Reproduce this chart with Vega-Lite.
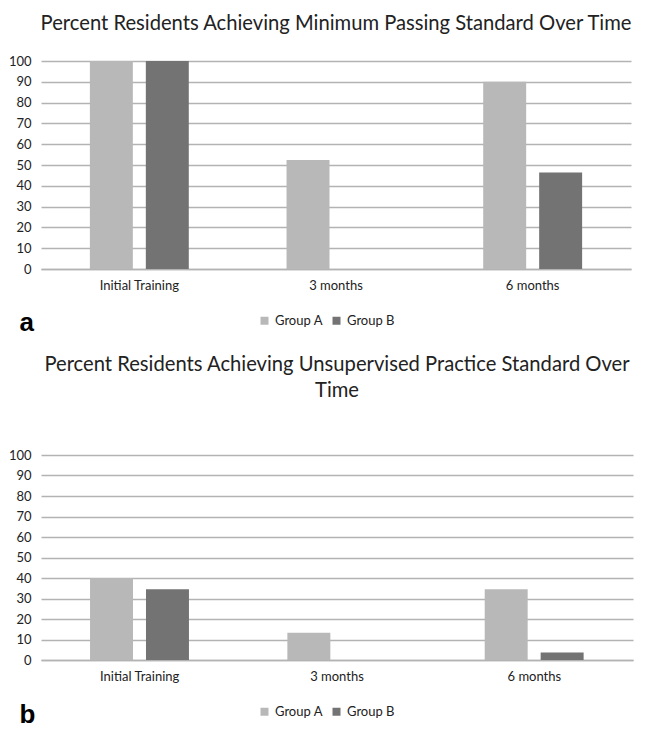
{
  "$schema": "https://vega.github.io/schema/vega-lite/v6.json",
  "padding": {"left": 8, "top": 13, "right": 10, "bottom": 0},
  "background": "white",
  "resolve": {"legend": {"color": "independent"}},
  "config": {
    "font": "Lato",
    "view": {"stroke": null},
    "concat": {"spacing": 19},
    "axis": {
      "labelFont": "Lato",
      "labelFontSize": 13,
      "labelColor": "#222222",
      "ticks": false,
      "gridColor": "#b3b3b3",
      "gridWidth": 1.5,
      "domainColor": "#b3b3b3",
      "domainWidth": 1.5
    },
    "legend": {"labelFont": "Lato", "labelFontSize": 13, "labelColor": "#222222", "symbolType": "square", "symbolSize": 64, "symbolStrokeWidth": 0}
  },
  "datasets": {
    "panelA": [
      {"period": "Initial Training", "group": "Group A", "pct": 100},
      {"period": "Initial Training", "group": "Group B", "pct": 100},
      {"period": "3 months", "group": "Group A", "pct": 52.4},
      {"period": "3 months", "group": "Group B", "pct": 0},
      {"period": "6 months", "group": "Group A", "pct": 90},
      {"period": "6 months", "group": "Group B", "pct": 46.4}
    ],
    "panelB": [
      {"period": "Initial Training", "group": "Group A", "pct": 40},
      {"period": "Initial Training", "group": "Group B", "pct": 34.5},
      {"period": "3 months", "group": "Group A", "pct": 13.3},
      {"period": "3 months", "group": "Group B", "pct": 0},
      {"period": "6 months", "group": "Group A", "pct": 34.5},
      {"period": "6 months", "group": "Group B", "pct": 3.6}
    ]
  },
  "vconcat": [
    {
      "title": {"text": "Percent Residents Achieving Minimum Passing Standard Over Time", "fontSize": 20.2, "fontWeight": "normal", "color": "#222222", "offset": 21, "anchor": "middle"},
      "width": 590,
      "height": 208,
      "data": {"name": "panelA"},
      "mark": {"type": "bar"},
      "encoding": {
        "x": {"field": "period", "type": "nominal", "sort": ["Initial Training", "3 months", "6 months"],
          "scale": {"paddingInner": 0.497, "paddingOuter": 0.2485},
          "axis": {"title": "a", "labelAngle": 0, "labelPadding": 10, "titleFont": "Liberation Sans", "titleFontSize": 26, "titleFontWeight": "bold", "titleColor": "#000000", "titleAnchor": "start", "titleAlign": "left", "titleBaseline": "alphabetic", "titleX": -22, "titleY": 61}},
        "xOffset": {"field": "group", "type": "nominal", "scale": {"paddingInner": 0.232, "paddingOuter": 0}},
        "y": {"field": "pct", "type": "quantitative", "scale": {"domain": [0, 100]},
          "axis": {"title": null, "values": [0, 10, 20, 30, 40, 50, 60, 70, 80, 90, 100], "domain": false, "labelPadding": 10}},
        "color": {"field": "group", "type": "nominal", "scale": {"domain": ["Group A", "Group B"], "range": ["#b8b8b8", "#737373"]},
          "legend": {"title": null, "orient": "none", "direction": "horizontal", "legendX": 217, "legendY": 253, "columnPadding": 7}}
      }
    },
    {
      "title": {"text": ["Percent Residents Achieving Unsupervised Practice Standard Over", "Time"], "fontSize": 20.2, "fontWeight": "normal", "color": "#222222", "offset": 48, "anchor": "middle", "lineHeight": 26},
      "width": 592,
      "height": 205,
      "data": {"name": "panelB"},
      "mark": {"type": "bar"},
      "encoding": {
        "x": {"field": "period", "type": "nominal", "sort": ["Initial Training", "3 months", "6 months"],
          "scale": {"paddingInner": 0.497, "paddingOuter": 0.2485},
          "axis": {"title": "b", "labelAngle": 0, "labelPadding": 10, "titleFont": "Liberation Sans", "titleFontSize": 26, "titleFontWeight": "bold", "titleColor": "#000000", "titleAnchor": "start", "titleAlign": "left", "titleBaseline": "alphabetic", "titleX": -22, "titleY": 62}},
        "xOffset": {"field": "group", "type": "nominal", "scale": {"paddingInner": 0.232, "paddingOuter": 0}},
        "y": {"field": "pct", "type": "quantitative", "scale": {"domain": [0, 100]},
          "axis": {"title": null, "values": [0, 10, 20, 30, 40, 50, 60, 70, 80, 90, 100], "domain": false, "labelPadding": 10}},
        "color": {"field": "group", "type": "nominal", "scale": {"domain": ["Group A", "Group B"], "range": ["#b8b8b8", "#737373"]},
          "legend": {"title": null, "orient": "none", "direction": "horizontal", "legendX": 217, "legendY": 250, "columnPadding": 7}}
      }
    }
  ]
}
